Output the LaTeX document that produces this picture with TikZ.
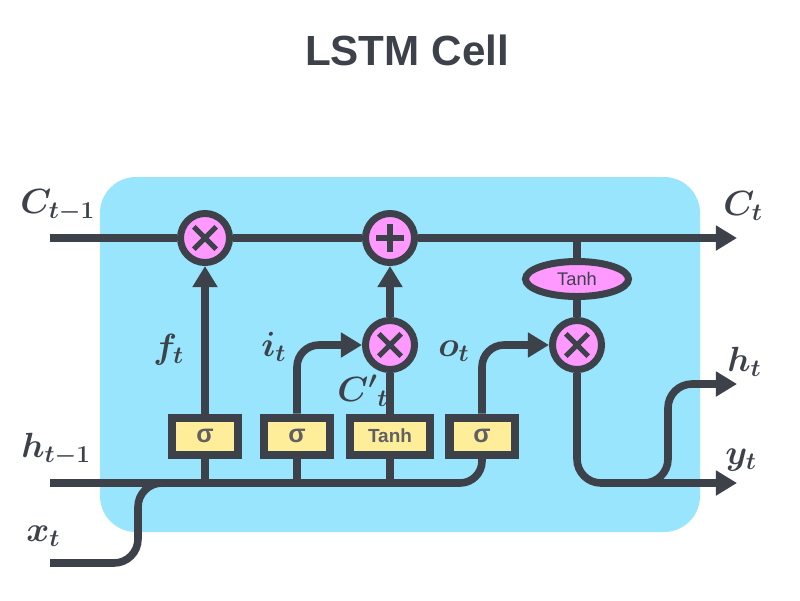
\documentclass[tikz,border=0pt]{standalone}
\usepackage{amsmath,bm}
\usepackage{fontspec}
\setmainfont{Liberation Sans}
\usepackage{tikz}
\usetikzlibrary{arrows.meta,positioning,shapes.geometric}
\definecolor{cellBlue}{RGB}{153,229,253}
\definecolor{opPink}{RGB}{255,153,255}
\definecolor{gateYellow}{RGB}{255,238,153}
\definecolor{inkDark}{RGB}{61,66,74}
\definecolor{sigGray}{RGB}{96,96,100}

\begin{document}
\begin{tikzpicture}[x=0.025cm, y=-0.025cm,
    wire/.style={draw=inkDark, line width=0.19cm},
    arr/.style={wire, -{Triangle[length=15pt,width=17pt]}},
    mult/.style={circle, draw=inkDark, fill=opPink, line width=0.175cm, minimum size=1.225cm, inner sep=0pt,
      path picture={\draw[inkDark, line width=0.13cm]
        ([shift={(-0.28cm,-0.28cm)}]path picture bounding box.center) -- ([shift={(0.28cm,0.28cm)}]path picture bounding box.center)
        ([shift={(-0.28cm,0.28cm)}]path picture bounding box.center) -- ([shift={(0.28cm,-0.28cm)}]path picture bounding box.center);}},
    addop/.style={circle, draw=inkDark, fill=opPink, line width=0.175cm, minimum size=1.225cm, inner sep=0pt,
      path picture={\draw[inkDark, line width=0.13cm]
        ([xshift=-0.35cm]path picture bounding box.center) -- ([xshift=0.35cm]path picture bounding box.center)
        ([yshift=-0.35cm]path picture bounding box.center) -- ([yshift=0.35cm]path picture bounding box.center);}},
    gate/.style={rectangle, draw=inkDark, fill=gateYellow, line width=0.2cm, minimum width=1.625cm, minimum height=0.925cm,
      inner sep=0pt, text=sigGray, font=\bfseries\fontsize{18}{20}\selectfont},
    lab/.style={text=inkDark, font=\fontsize{23}{27}\selectfont, anchor=base west, inner sep=0pt}]
  \useasboundingbox (0,0) rectangle (800,600);
  % Cell body
  \fill[cellBlue, rounded corners=0.9cm] (100,177) rectangle (700,532);
  % Title
  \node[text=inkDark, font=\bfseries\fontsize{30}{34}\selectfont, anchor=base] (title) at (407,65) {LSTM Cell};
  % Operators
  \node[mult] (mulf) at (205,238) {};
  \node[addop] (add) at (390,238) {};
  \node[mult] (muli) at (390,345) {};
  \node[mult] (mulo) at (577,345) {};
  \node[ellipse, draw=inkDark, fill=opPink, line width=0.175cm, minimum width=2.575cm, minimum height=0.875cm,
    inner sep=0pt, text=inkDark, font=\fontsize{13}{15}\selectfont] (tanhc) at (577,279) {Tanh};
  % Gates
  \node[gate] (sigf) at (205,436) {σ};
  \node[gate] (sigi) at (297,436) {σ};
  \node[gate, minimum width=1.975cm, font=\bfseries\fontsize{13.5}{15}\selectfont] (gtanh) at (390,436) {Tanh};
  \node[gate] (sigo) at (482,436) {σ};
  % Ends
  \coordinate (cin) at (50,238);
  \coordinate (cout) at (737,238);
  \coordinate (tap) at (577,238);
  \coordinate (hin) at (50,483);
  \coordinate (xin) at (50,563);
  \coordinate (xjoin) at (175,483);
  \coordinate (yout) at (737,483);
  \coordinate (hsplit) at (635,483);
  \coordinate (hout) at (737,384);
  % Cell state
  \draw[arr] (cin) -- (mulf) -- (add) -- (cout);
  \draw[wire] (tap) -- (tanhc) -- (mulo);
  % Inputs
  \draw[wire, rounded corners=0.55cm] (hin) -| (sigo);
  \draw[wire, rounded corners=0.6cm] (xin) -- ++(88,0) |- (xjoin);
  \draw[wire] (sigf) -- (sigf |- hin);
  \draw[wire] (sigi) -- (sigi |- hin);
  \draw[wire] (gtanh) -- (gtanh |- hin);
  % Gate outputs
  \draw[arr] (sigf) -- (mulf);
  \draw[arr, rounded corners=0.55cm] (sigi) |- (muli);
  \draw[wire] (gtanh) -- (muli);
  \draw[arr] (muli) -- (add);
  \draw[arr, rounded corners=0.55cm] (sigo) |- (mulo);
  % Outputs
  \draw[arr, rounded corners=0.6cm] (mulo) |- (yout);
  \draw[arr, rounded corners=0.6cm] (hsplit) -- ++(33,0) |- (hout);
  % Labels
  \node[lab] (lct1) at (20,213) {$\bm{C_{t-1}}$};
  \node[lab] (lct) at (723,215) {$\bm{C_{t}}$};
  \node[lab] (lht1) at (21,457) {$\bm{h_{t-1}}$};
  \node[lab] (lxt) at (26,541) {$\bm{x_{t}}$};
  \node[lab] (lht) at (727,371) {$\bm{h_{t}}$};
  \node[lab] (lyt) at (725,464) {$\bm{y_{t}}$};
  \node[lab] (lft) at (153,358) {$\bm{f_{t}}$};
  \node[lab] (lit) at (261,356) {$\bm{i_{t}}$};
  \node[lab] (lot) at (438,356) {$\bm{o_{t}}$};
  \node[lab] (lcp) at (337,401) {$\bm{{C'}_{t}}$};
\end{tikzpicture}
\end{document}
